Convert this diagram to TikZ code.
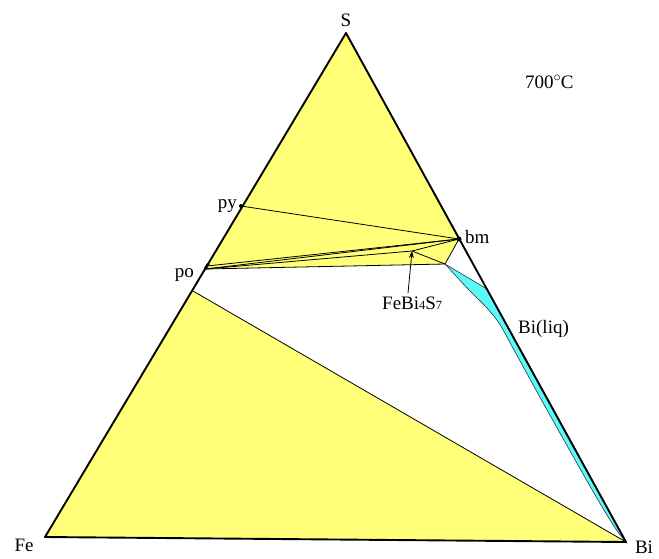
\documentclass[tikz,border=0pt]{standalone}
\usepackage{fontspec}
\setmainfont{Liberation Serif}
\usetikzlibrary{arrows.meta}
\definecolor{phyellow}{RGB}{255,255,120}
\definecolor{phcyan}{RGB}{90,250,250}
\begin{document}
\begin{tikzpicture}[x=1pt,y=-1pt,
  edge/.style={line width=1.9pt, line join=round, line cap=round},
  tie/.style={line width=0.8pt},
  lbl/.style={font=\fontsize{19}{21}\selectfont, inner sep=0pt}]
\useasboundingbox (0,0) rectangle (659,558);
% vertices and phase points
\coordinate (S) at (346,33);
\coordinate (Fe) at (45,537);
\coordinate (Bi) at (626,542);
\coordinate (py) at (241,206);
\coordinate (bm) at (459,239);
\coordinate (poA) at (207,266);
\coordinate (poB) at (205,269);
\coordinate (fb) at (412,251);
\coordinate (liq) at (445,264);
\coordinate (q) at (487,289);
\coordinate (lo) at (193,291);
% regions
\fill[phyellow] (S) -- (poB) -- (liq) -- (bm) -- cycle;
\fill[phyellow] (lo) -- (Bi) -- (Fe) -- cycle;
\fill[phcyan, draw=black!80, line width=0.6pt] (liq) -- (q) -- (Bi)
  -- plot[smooth] coordinates {(Bi) (616.5,530) (598,500) (569.5,450) (541.5,400) (514,350) (499,323) (486,307) (469,290) (liq)} -- cycle;
% tie lines
\draw[tie] (py) -- (bm);
\draw[tie] (poA) -- (bm);
\draw[tie] (poB) -- (bm);
\draw[tie] (poB) -- (fb);
\draw[tie] (fb) -- (bm);
\draw[tie] (fb) -- (liq);
\draw[tie] (poB) -- (liq);
\draw[tie] (liq) -- (bm);
\draw[tie] (lo) -- (Bi);
% triangle edges
\draw[edge] (S) -- (Fe) -- (Bi) -- cycle;
\draw[line width=2.6pt] (poA) ++(1.5,-2.5) coordinate (poT) -- (poB);
% points
\fill (py) circle (2pt);
\fill (bm) circle (2.5pt);
% labels
\node[lbl, anchor=base] (lS) at (346,26) {S};
\node[lbl, anchor=base] (lFe) at (24,551) {Fe};
\node[lbl, anchor=base] (lBi) at (644,553) {Bi};
\node[lbl, anchor=base east] (lpy) at (237,208) {py};
\node[lbl, anchor=base east] (lpo) at (194,277) {po};
\node[lbl, anchor=base west] (lbm) at (465,243) {bm};
\node[lbl, anchor=base west] (lliq) at (518,333) {Bi(liq)};
\node[lbl, anchor=base west] (lT) at (525,88) {700$^{\circ}$\kern-0.5ptC};
\node[lbl, anchor=base west] (lfb) at (382,309) {FeBi{\fontsize{12.5}{14}\selectfont 4}S{\fontsize{12.5}{14}\selectfont 7}};
\draw[tie, -{Stealth[length=7pt,width=5pt]}] (lfb.north -| 408,0) ++(0,-3) coordinate (ar) -- (fb);
\end{tikzpicture}
\end{document}
